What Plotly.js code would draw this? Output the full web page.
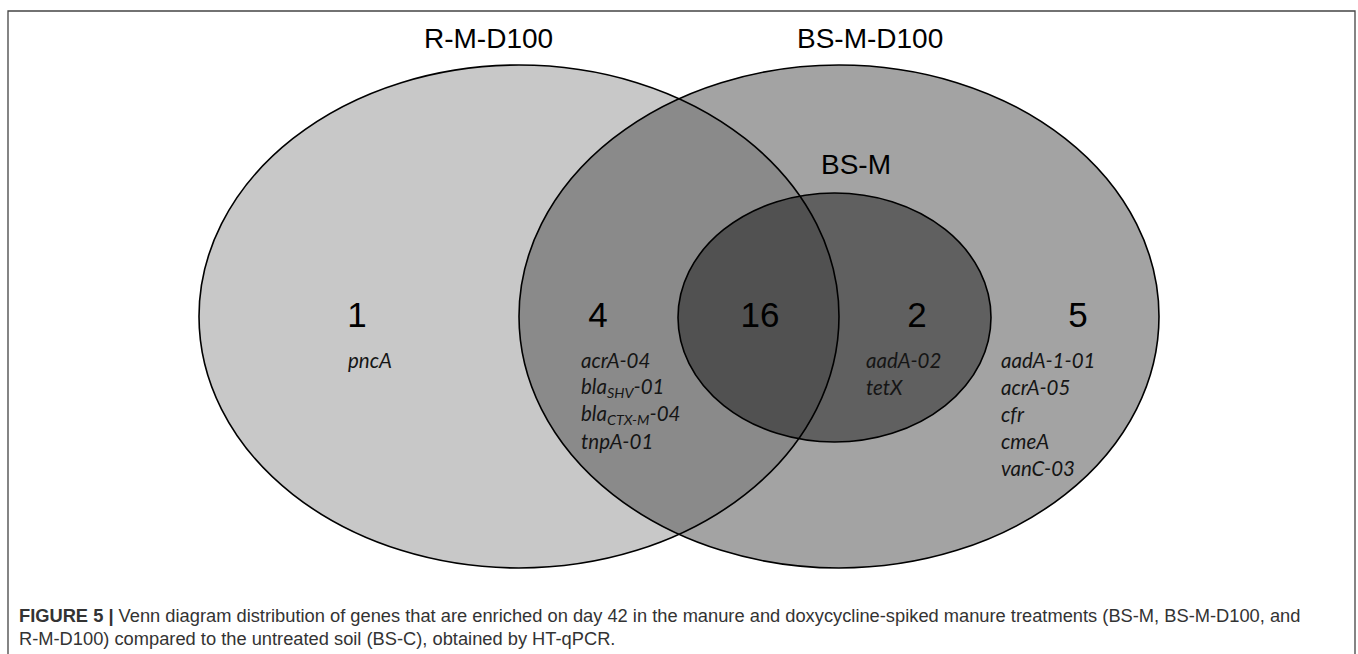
<!DOCTYPE html>
<html><head><meta charset="utf-8">
<script src="https://cdn.plot.ly/plotly-3.0.1.min.js"></script>
<style>html,body{margin:0;padding:0;background:#fff;}</style>
</head><body><div id="chart" style="width:1358px;height:654px;"></div>
<script>
// ---- data ----
const setNames = ['R-M-D100', 'BS-M-D100', 'BS-M'];
const regionCounts = [1, 4, 16, 2, 5];
const regionGenes = [
  ['pncA'],
  ['acrA-04', 'bla<sub>SHV</sub>-01', 'bla<sub>CTX-M</sub>-04', 'tnpA-01'],
  [],
  ['aadA-02', 'tetX'],
  ['aadA-1-01', 'acrA-05', 'cfr', 'cmeA', 'vanC-03']
];
const captionBold = 'FIGURE 5 |';
const captionLines = [
  ' Venn diagram distribution of genes that are enriched on day 42 in the manure and doxycycline-spiked manure treatments (BS-M, BS-M-D100, and',
  'R-M-D100) compared to the untreated soil (BS-C), obtained by HT-qPCR.'
];

// ---- layout geometry (pixel space) ----
const ellipses = [
  {x0: 199, x1: 839, y0: 65, y1: 568, fill: '#c8c8c8', op: 1},
  {x0: 519, x1: 1159, y0: 65, y1: 568, fill: 'rgb(86,86,86)', op: 0.545},
  {x0: 678, x1: 991, y0: 193, y1: 442, fill: '#000000', op: 0.41}
];
const setLabelPos = [[488, 38], [870, 38], [856, 164]];
const countX = [357, 598, 760, 917, 1078];
const countY = 318;
const geneX = [346, 579, null, 864, 999];
const geneY0 = 360, geneStep = 27;

const shapes = [];
ellipses.forEach(e => shapes.push({type: 'circle', xref: 'x', yref: 'y', x0: e.x0, x1: e.x1, y0: e.y0, y1: e.y1,
  fillcolor: e.fill, opacity: e.op, line: {width: 0}, layer: 'below'}));
ellipses.forEach(e => shapes.push({type: 'circle', xref: 'x', yref: 'y', x0: e.x0, x1: e.x1, y0: e.y0, y1: e.y1,
  fillcolor: 'rgba(0,0,0,0)', line: {color: '#000', width: 1.6}, layer: 'above'}));
shapes.push({type: 'rect', xref: 'x', yref: 'y', x0: 8, x1: 1355, y0: 11, y1: 720,
  fillcolor: 'rgba(0,0,0,0)', line: {color: '#444', width: 1.3}});

const annotations = [];
setNames.forEach((n, i) => annotations.push({x: setLabelPos[i][0], y: setLabelPos[i][1], xref: 'x', yref: 'y',
  text: n, showarrow: false, font: {family: 'Liberation Sans, Arial', size: 28, color: '#000'}}));
regionGenes.forEach((g, i) => g.forEach((gene, j) => annotations.push({x: geneX[i], y: geneY0 + j * geneStep,
  xref: 'x', yref: 'y', xanchor: 'left', text: '<i>' + gene + '</i>', showarrow: false,
  font: {family: 'Lato, Open Sans, sans-serif', size: 20.5, color: '#151515'}})));
annotations.push({x: 17, y: 615, xref: 'x', yref: 'y', xanchor: 'left', showarrow: false,
  text: '<b>' + captionBold + '</b>' + captionLines[0],
  font: {family: 'Liberation Sans, Arial', size: 18.3, color: '#333'}});
annotations.push({x: 17, y: 638, xref: 'x', yref: 'y', xanchor: 'left', showarrow: false,
  text: captionLines[1],
  font: {family: 'Liberation Sans, Arial', size: 18.3, color: '#333'}});

const traces = [{
  type: 'scatter', mode: 'text', x: countX, y: countX.map(() => countY),
  text: regionCounts.map(String), textposition: 'middle center',
  textfont: {family: 'Liberation Sans, Arial', size: 35, color: '#000'},
  hoverinfo: 'skip', showlegend: false
}];

const layout = {
  width: 1358, height: 654, margin: {l: 0, r: 0, t: 0, b: 0},
  paper_bgcolor: '#fff', plot_bgcolor: '#fff', showlegend: false,
  xaxis: {range: [0, 1358], visible: false, fixedrange: true},
  yaxis: {range: [654, 0], visible: false, fixedrange: true},
  shapes: shapes, annotations: annotations
};
Plotly.newPlot('chart', traces, layout, {displayModeBar: false, staticPlot: true});
</script></body></html>
